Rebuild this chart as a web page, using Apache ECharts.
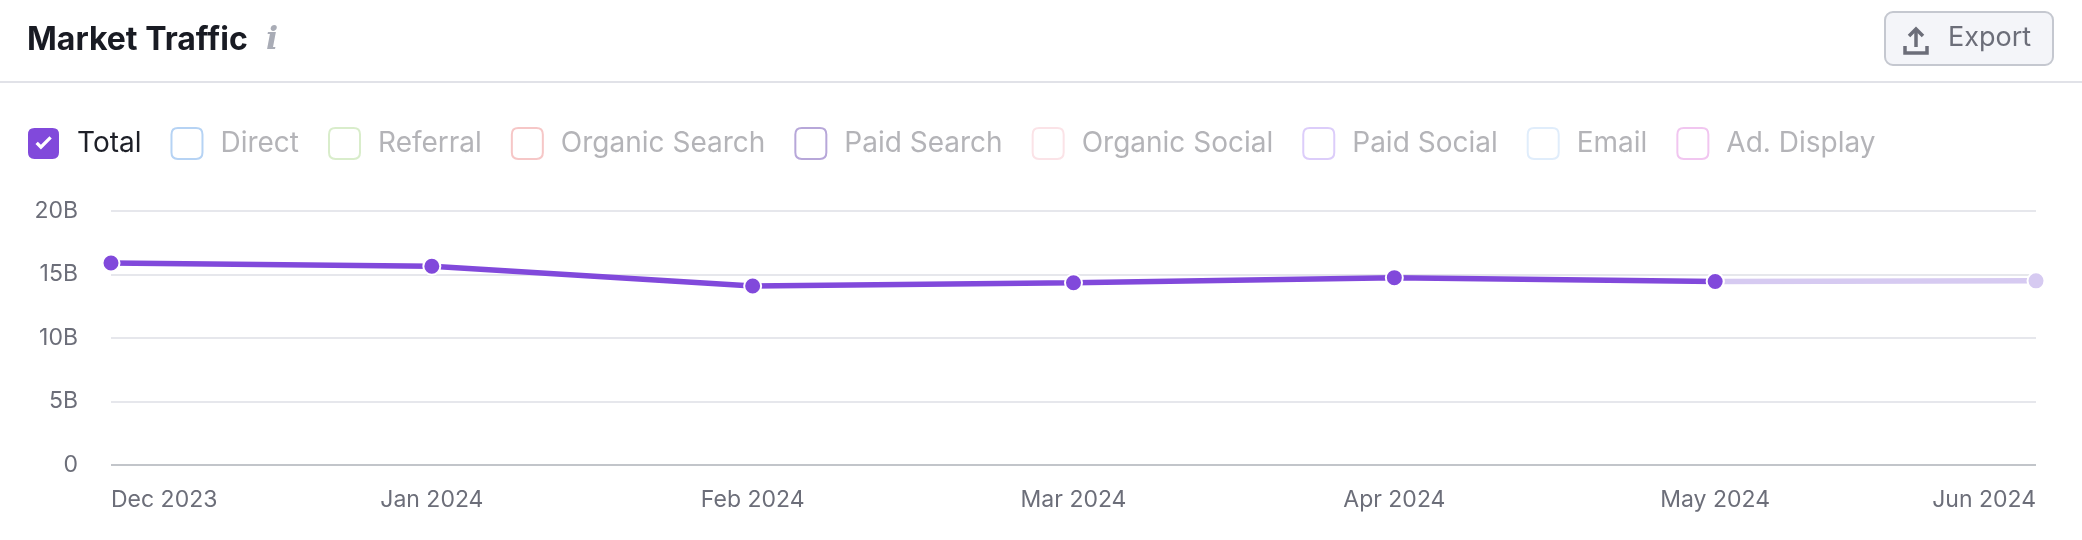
<!DOCTYPE html>
<html>
<head>
  <meta charset="utf-8">
  <title>Market Traffic</title>
  <style>
    html, body { margin: 0; padding: 0; background: #fff; }
    #main { width: 2082px; height: 540px; }
  </style>
</head>
<body>
  <div id="main"></div>
  <script src="https://cdn.jsdelivr.net/npm/echarts@6/dist/echarts.min.js"></script>
  <script>
    // data (billions of visits)
    var months = ['Dec 2023', 'Jan 2024', 'Feb 2024', 'Mar 2024', 'Apr 2024', 'May 2024', 'Jun 2024'];
    var totalValues = [15.9, 15.65, 14.1, 14.35, 14.75, 14.45, 14.5];
    var lastCompleteIndex = 5; // Jun 2024 drawn lighter (incomplete month)

    var channelNames = ['Total', 'Direct', 'Referral', 'Organic Search', 'Paid Search',
      'Organic Social', 'Paid Social', 'Email', 'Ad. Display'];
    var channelColors = ['#8149db', '#b6d3f4', '#d9edcb', '#f6c7c7', '#b7a7d9',
      '#fbe3e7', '#dccdfa', '#e0edfb', '#f1c6f0'];
    var yTicks = [0, 5, 10, 15, 20];

    var font = 'Inter, "Noto Sans", sans-serif';
    var boxPath = 'path://M5,0H19Q24,0,24,5V19Q24,24,19,24H5Q0,24,0,19V5Q0,0,5,0Z';
    var checkPath = boxPath + ' M5.8,12.4L10,16.6L18.4,8.2L16.6,6.4L10,13L7.6,10.6Z';

    var solid = totalValues.map(function (v, i) { return i <= lastCompleteIndex ? v : null; });
    var faded = totalValues.map(function (v, i) { return i >= lastCompleteIndex ? v : null; });

    var legendData = channelNames.map(function (name, i) {
      if (i === 0) {
        return {
          name: name, icon: checkPath,
          itemStyle: { color: channelColors[i], borderWidth: 0 },
          textStyle: { color: '#1d1f27' }
        };
      }
      return {
        name: name, icon: boxPath,
        itemStyle: { color: '#fff', borderColor: channelColors[i], borderWidth: 2 },
        textStyle: { color: '#b4b4b8' }
      };
    });

    var series = [
      {
        name: 'Total',
        type: 'line',
        data: solid,
        clip: false,
        symbol: 'circle',
        symbolSize: 17,
        lineStyle: { color: '#8149db', width: 5.5 },
        itemStyle: { color: '#8149db', borderColor: '#fff', borderWidth: 2 },
        z: 3
      },
      {
        name: 'Total (partial)',
        type: 'line',
        data: faded,
        clip: false,
        symbol: 'circle',
        symbolSize: 17,
        lineStyle: { color: '#d6caf1', width: 5.5 },
        itemStyle: { color: '#d6caf1', borderColor: '#fff', borderWidth: 2 },
        z: 2
      }
    ];
    // channels that are switched off: listed in the legend, nothing drawn
    channelNames.slice(1).forEach(function (name, i) {
      series.push({
        name: name, type: 'line', data: [],
        showSymbol: false,
        lineStyle: { opacity: 0, width: 0 },
        itemStyle: { color: channelColors[i + 1] }
      });
    });

    // first split line (value 0) is the darker baseline
    var splitColors = yTicks.map(function (t, i) { return i === 0 ? '#c2c5ca' : '#e6e7ec'; });

    var chart = echarts.init(document.getElementById('main'));
    chart.setOption({
      animation: false,
      textStyle: { fontFamily: font },
      grid: { left: 111, right: 46, top: 211, bottom: 75 },
      legend: {
        left: 28,
        top: 127,
        padding: 0,
        itemWidth: 31,
        itemHeight: 31,
        itemGap: 29,
        selectedMode: false,
        data: legendData,
        textStyle: { fontFamily: font, fontSize: 28, padding: [0, 0, 0, 13] }
      },
      xAxis: {
        type: 'category',
        data: months,
        boundaryGap: false,
        axisLine: { show: false },
        axisTick: { show: false },
        axisLabel: {
          color: '#6c6e79', fontSize: 23, margin: 24, fontFamily: font,
          alignMinLabel: 'left', alignMaxLabel: 'right'
        }
      },
      yAxis: {
        type: 'value',
        min: yTicks[0],
        max: yTicks[yTicks.length - 1],
        interval: yTicks[1] - yTicks[0],
        axisLine: { show: false },
        axisTick: { show: false },
        splitLine: { lineStyle: { color: splitColors, width: 2 } },
        axisLabel: {
          color: '#6c6e79', fontSize: 23, margin: 33, fontFamily: font,
          formatter: function (v) { return v === 0 ? '0' : v + 'B'; }
        }
      },
      series: series,
      graphic: [
        {
          type: 'text', left: 27, top: 24,
          style: { text: 'Market Traffic', fontSize: 32, fontWeight: 700, fill: '#191b23', fontFamily: font }
        },
        {
          type: 'text', left: 266, top: 25,
          style: { text: 'i', fontSize: 32, fontStyle: 'italic', fontWeight: 700, fill: '#a9acb6', fontFamily: '"DejaVu Serif", serif' }
        },
        {
          type: 'line', shape: { x1: 0, y1: 82, x2: 2082, y2: 82 },
          style: { stroke: '#e1e2e8', lineWidth: 2 }
        },
        {
          type: 'rect', shape: { x: 1885, y: 12, width: 168, height: 53, r: 8 },
          style: { fill: '#f4f5f9', stroke: '#c5c8d0', lineWidth: 2 }
        },
        {
          type: 'polyline', shape: { points: [[1905, 46], [1905, 53], [1927, 53], [1927, 46]] },
          style: { stroke: '#6c6e79', lineWidth: 3.5, fill: null }
        },
        {
          type: 'line', shape: { x1: 1916, y1: 47, x2: 1916, y2: 29 },
          style: { stroke: '#6c6e79', lineWidth: 3.5 }
        },
        {
          type: 'polyline', shape: { points: [[1909, 36], [1916, 29], [1923, 36]] },
          style: { stroke: '#6c6e79', lineWidth: 3.5, fill: null }
        },
        {
          type: 'text', left: 1948, top: 24,
          style: { text: 'Export', fontSize: 27, fill: '#6c6e79', fontFamily: font }
        }
      ]
    });
  </script>
</body>
</html>
